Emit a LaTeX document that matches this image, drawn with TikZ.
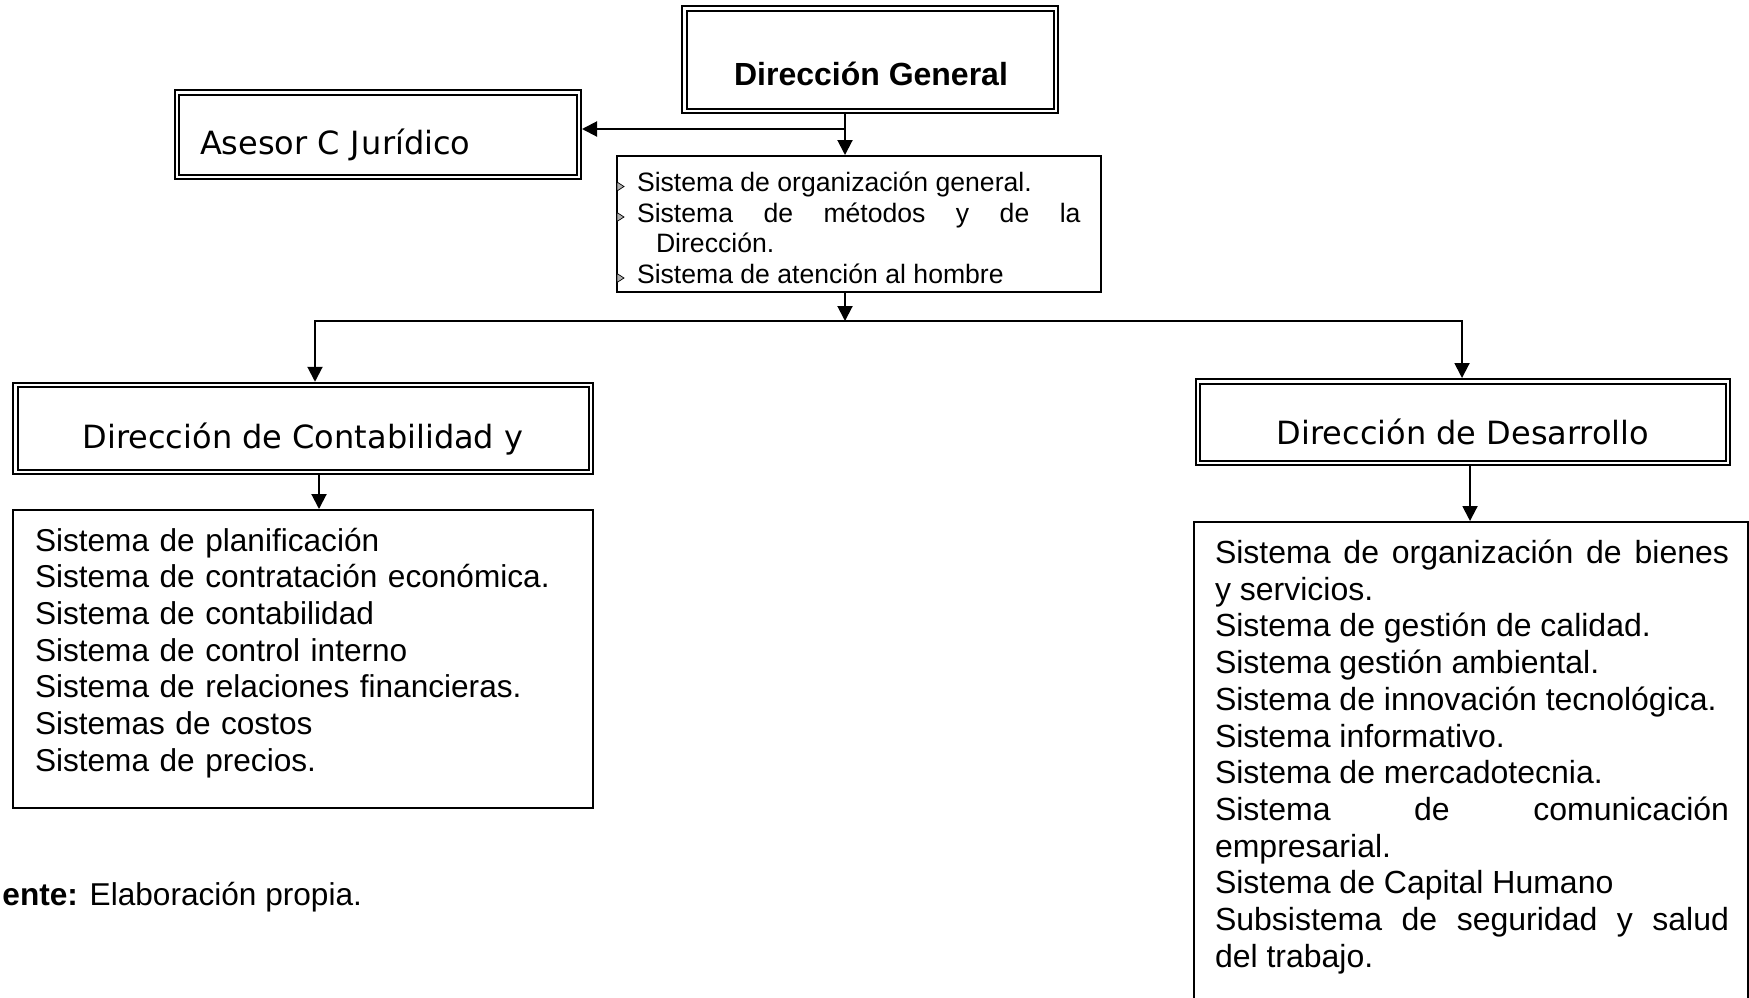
\documentclass[tikz,border=0pt]{standalone}
\usepackage{fontspec}
\setmainfont{Liberation Sans}
\newfontfamily\verdfont{DejaVu Sans}
\usetikzlibrary{arrows.meta,fit}

\begin{document}
\begin{tikzpicture}[x=0.5pt,y=-0.5pt,
  dbox/.style={draw, double, line width=1pt, double distance=1.25pt,
               inner sep=0pt, outer sep=1.625pt},
  sbox/.style={draw, line width=1pt, inner sep=0pt, outer sep=0.5pt},
  conn/.style={line width=1pt},
  arr/.style={conn, -{Triangle[length=7.5pt,width=7.5pt]}},
  bodyfont/.style={font={\fontsize{16pt}{18.35pt}\selectfont}},
  leftfont/.style={font={\fontsize{15.8pt}{18.35pt}\selectfont}},
  smallfont/.style={font={\fontsize{13.3pt}{15.25pt}\selectfont}},
  headfont/.style={font={\verdfont\fontsize{16pt}{18pt}\selectfont}},
  bullet/.style={fill=gray!60, draw=black, line width=0.35pt, line join=miter},
  txt/.style={inner sep=0pt, outer sep=0pt}
]
\useasboundingbox (0,0) rectangle (1749,997);
\clip (0,0) rectangle (1749,997);

% --- boxes ---
\node[dbox, fit={(684.25,8.25) (1055.75,110.75)}] (dg) {};
\node[dbox, fit={(176.75,92.25) (578.75,176.75)}] (asesor) {};
\node[sbox, fit={(617,156) (1101,292)}] (sysgen) {};
\node[dbox, fit={(15.25,385) (590.75,471.75)}] (contab) {};
\node[sbox, fit={(13,510) (593,808)}] (contablist) {};
\node[dbox, fit={(1197.75,381.25) (1727.75,462.75)}] (desarrollo) {};
\node[sbox, fit={(1194,522) (1747.7,1030)}] (desarrollolist) {};

% --- box titles ---
\node[txt, anchor=base, bodyfont] (dgtext) at (871,85) {\bfseries Dirección General};
\node[txt, anchor=base west, headfont] (asesortext) at (200,154.5) {Asesor C J\kern1pt urídico};
\node[txt, anchor=base, headfont] (contabtext) at (303,448) {Dirección de Contabilidad y};
\node[txt, anchor=base, headfont] (desarrollotext) at (1463,444) {Dirección de Desarrollo};

% --- system lists ---
\node[txt, anchor=north west, smallfont, text width=221.75pt, align=justify]
  (sysgentext) at (637,170.6) {%
  \strut Sistema de organización general.\par
  \hangindent=9.5pt\hangafter=1 Sistema de métodos y de la\linebreak Dirección.\par
  Sistema de atención al hombre};
\foreach \b in {192,222.5,283.5} {
  \draw[bullet] (617,\b-10) -- (624,\b-5.5) -- (617,\b-1) -- cycle;
}

\node[txt, anchor=north west, leftfont, text width=270pt, align=left]
  (contabitems) at (35,525.3) {%
  \strut Sistema de planificación\\
  Sistema de contratación económica.\\
  Sistema de contabilidad\\
  Sistema de control interno\\
  Sistema de relaciones financieras.\\
  Sistemas de costos\\
  Sistema de precios.};

\node[txt, anchor=north west, bodyfont, text width=257pt, align=justify]
  (desarrolloitems) at (1215,537.8) {%
  \strut Sistema de organización de bienes\linebreak y servicios.\par
  Sistema de gestión de calidad.\par
  Sistema gestión ambiental.\par
  Sistema de innovación tecnológica.\par
  Sistema informativo.\par
  Sistema de mercadotecnia.\par
  Sistema de comunicación\linebreak empresarial.\par
  Sistema de Capital Humano\par
  Subsistema de seguridad y salud\linebreak del trabajo.};

\node[txt, anchor=base west, leftfont] (fuente) at (2.5,905)
  {\textbf{ente:} Elaboración propia.};

% --- connectors ---
\coordinate (trunk) at (845,129);
\coordinate (bus) at (845,321);
\coordinate (busL) at (315,321);
\coordinate (busR) at (1462,321);
\coordinate (leftdrop) at (319,0);
\coordinate (rightdrop) at (1470,0);

\draw[arr] (dg.south -| trunk) -- (sysgen.north -| trunk);
\draw[arr] (trunk) -- (asesor.east |- trunk);
\draw[arr] (sysgen.south -| bus) -- (bus);
\draw[arr] (bus) -| (contab.north -| busL);
\draw[arr] (bus) -| (desarrollo.north -| busR);
\draw[arr] (contab.south -| leftdrop) -- (contablist.north -| leftdrop);
\draw[arr] (desarrollo.south -| rightdrop) -- (desarrollolist.north -| rightdrop);
\end{tikzpicture}
\end{document}
